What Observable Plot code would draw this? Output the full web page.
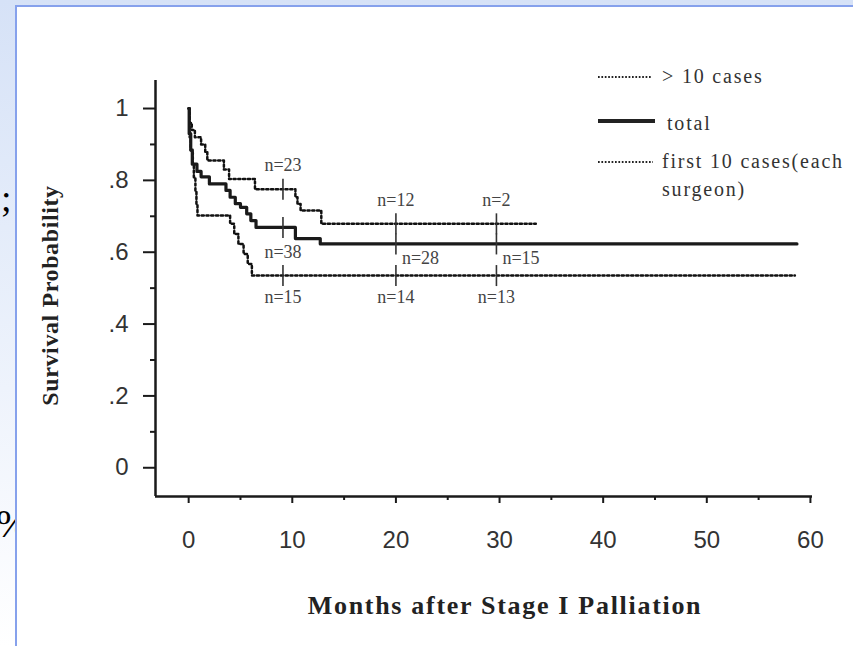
<!DOCTYPE html>
<html>
<head>
<meta charset="utf-8">
<script src="https://cdn.jsdelivr.net/npm/d3@7"></script>
<script src="https://cdn.jsdelivr.net/npm/@observablehq/plot@0.6"></script>
<style>
  html, body { margin: 0; padding: 0; background: #fff; }
  #wrap { position: relative; width: 853px; height: 646px; overflow: hidden;
          background: linear-gradient(#d6e2f7, #eef3fc 60%, #ffffff); }
  #panel { position: absolute; left: 15px; top: 5px; width: 850px; height: 660px; background: #fff;
           border-left: 2px solid #86a1ec; border-top: 2px solid #86a1ec; }
  .stray { position: absolute; font-family: "Liberation Serif", "Times New Roman", serif; color: #000; }
  #chart { position: absolute; left: 0; top: 0; }
  #legend { position: absolute; left: 0; top: 0; }
</style>
</head>
<body>
<div id="wrap">
  <div class="stray" style="left:1px; top:176px; font-size:38px;">;</div>
  <div class="stray" style="left:-4px; top:500px; font-size:40px;">%</div>
  <div id="panel"></div>
  <div id="chart"></div>
  <svg id="legend" width="853" height="646" font-family="'Liberation Serif', 'Times New Roman', serif" font-size="20" letter-spacing="1.8" fill="#333">
    <line x1="598" x2="652" y1="77" y2="77" stroke="#222" stroke-width="2" stroke-dasharray="1.7,1.7"/>
    <text x="662" y="83">&gt; 10 cases</text>
    <line x1="598" x2="655" y1="121" y2="121" stroke="#222" stroke-width="4"/>
    <text x="667" y="130">total</text>
    <line x1="598" x2="653" y1="162" y2="162" stroke="#222" stroke-width="2" stroke-dasharray="1.7,1.7"/>
    <text x="662" y="168">first 10 cases(each</text>
    <text x="662" y="196">surgeon)</text>
  </svg>
</div>
<script>
// ---- data ----
const totalMonths = [0, 0.05, 0.2, 0.35, 0.8, 1.2, 2.0, 3.6, 4.0, 4.5, 5.0, 5.6, 6.0, 6.5, 10.3, 12.7, 58.7];
const totalSurv   = [1.0, 0.93, 0.885, 0.845, 0.825, 0.81, 0.79, 0.772, 0.753, 0.735, 0.725, 0.707, 0.688, 0.669, 0.638, 0.623, 0.623];

const upperMonths = [0, 0.1, 0.3, 0.6, 1.2, 1.6, 1.8, 3.4, 3.9, 6.4, 10.3, 10.5, 10.8, 12.8, 33.5];
const upperSurv   = [1.0, 0.96, 0.94, 0.92, 0.90, 0.878, 0.855, 0.83, 0.804, 0.775, 0.753, 0.734, 0.716, 0.679, 0.679];

const lowerMonths = [0, 0.1, 0.2, 0.4, 0.5, 0.65, 0.75, 0.85, 4.0, 4.4, 4.8, 5.3, 5.7, 6.1, 58.5];
const lowerSurv   = [1.0, 0.92, 0.883, 0.846, 0.809, 0.772, 0.734, 0.702, 0.679, 0.651, 0.623, 0.595, 0.567, 0.535, 0.535];

const censorMonths = [9.1, 20.0, 29.7];
const upperN = ["n=23", "n=12", "n=2"];
const totalN = ["n=38", "n=28", "n=15"];
const lowerN = ["n=15", "n=14", "n=13"];

const xTicks = [0, 10, 20, 30, 40, 50, 60];
const xMinorTicks = [5, 15, 25, 35, 45, 55];
const yTicks = [0, 0.2, 0.4, 0.6, 0.8, 1];
const yMinorTicks = [0.1, 0.3, 0.5, 0.7, 0.9];

const xTitle = "Months after Stage I Palliation";
const yTitle = "Survival Probability";

// ---- build tables ----
const toRows = (ms, ss) => ms.map((t, i) => ({t, s: ss[i]}));
const total = toRows(totalMonths, totalSurv);
const upper = toRows(upperMonths, upperSurv);
const lower = toRows(lowerMonths, lowerSurv);
const valueAt = (ms, ss, t) => { let v = ss[0]; ms.forEach((m, i) => { if (m <= t) v = ss[i]; }); return v; };
const censor = (ms, ss, labels) => censorMonths.map((t, i) => ({t, s: valueAt(ms, ss, t), label: labels[i], i}));
const upperC = censor(upperMonths, upperSurv, upperN);
const totalC = censor(totalMonths, totalSurv, totalN);
const lowerC = censor(lowerMonths, lowerSurv, lowerN);

const yFmt = d => d === 0 ? "0" : d === 1 ? "1" : String(d).replace("0.", ".");
const xDom = [-3.2, 60.2], yDom = [-0.08, 1.078];
const ink = "#1a1a1a";
const serif = "'Liberation Serif', 'Times New Roman', serif";
// vertical censor tick symbol
const vbar = {draw(ctx) { ctx.moveTo(0, -10.5); ctx.lineTo(0, 10.5); }};

const chart = Plot.plot({
  width: 853, height: 646,
  marginLeft: 155, marginRight: 41, marginTop: 80, marginBottom: 150,
  x: {domain: xDom, label: null},
  y: {domain: yDom, label: null},
  style: {background: "transparent", fontFamily: "'Liberation Sans', Arial, sans-serif", color: "#333", overflow: "visible"},
  marks: [
    // axes
    Plot.axisY(yTicks, {label: null, tickSize: 12, tickPadding: 15, tickFormat: yFmt, fontSize: 24, stroke: ink, strokeWidth: 2, fill: "#333"}),
    Plot.axisY(yMinorTicks, {label: null, tickSize: 5, tickFormat: () => "", stroke: ink, strokeWidth: 2}),
    Plot.axisX(xTicks, {label: null, tickSize: 7, tickPadding: 27, fontSize: 24, stroke: ink, strokeWidth: 2, fill: "#333"}),
    Plot.axisX(xMinorTicks, {label: null, tickSize: 4, tickFormat: () => "", stroke: ink, strokeWidth: 2}),
    Plot.ruleX([xDom[0]], {stroke: ink, strokeWidth: 2.5}),
    Plot.ruleY([yDom[0]], {stroke: ink, strokeWidth: 2.5}),
    // curves
    Plot.line(upper, {x: "t", y: "s", curve: "step-after", stroke: "#111", strokeWidth: 2.5, strokeDasharray: "2.2,2.6"}),
    Plot.line(lower, {x: "t", y: "s", curve: "step-after", stroke: "#111", strokeWidth: 2.5, strokeDasharray: "2.2,2.6"}),
    Plot.line(total, {x: "t", y: "s", curve: "step-after", stroke: ink, strokeWidth: 3.2}),
    // censor marks
    Plot.dot([...upperC, ...totalC, ...lowerC], {x: "t", y: "s", symbol: vbar, r: 10, fill: "none", stroke: "#333", strokeWidth: 1.6}),
    // n= labels
    Plot.text(upperC, {x: "t", y: "s", text: "label", dy: -24, fontFamily: serif, fontSize: 18, fill: "#444"}),
    Plot.text(totalC.filter(d => d.i === 0), {x: "t", y: "s", text: "label", dy: 25, fontFamily: serif, fontSize: 18, fill: "#444"}),
    Plot.text(totalC.filter(d => d.i > 0), {x: "t", y: "s", text: "label", dx: 6, dy: 14, textAnchor: "start", fontFamily: serif, fontSize: 18, fill: "#444"}),
    Plot.text(lowerC, {x: "t", y: "s", text: "label", dy: 22, fontFamily: serif, fontSize: 18, fill: "#444"}),
    // axis titles
    Plot.text([yTitle], {frameAnchor: "left", textAnchor: "middle", lineAnchor: "middle", dx: -105, dy: 7, rotate: -90, fontFamily: serif, fontWeight: "bold", fontSize: 24, fill: "#222"}),
    Plot.text([xTitle], {frameAnchor: "bottom", textAnchor: "middle", lineAnchor: "middle", dx: 21, dy: 109, fontFamily: serif, fontWeight: "bold", fontSize: 26, fill: "#222"})
  ]
});
// widen the title lettering like the reference
d3.select(chart).selectAll("text").filter(function() { return this.textContent === xTitle; }).attr("letter-spacing", "1.7");
d3.select(chart).selectAll("text").filter(function() { return this.textContent === yTitle; }).attr("letter-spacing", "0.6");
document.getElementById("chart").appendChild(chart);
</script>
</body>
</html>
